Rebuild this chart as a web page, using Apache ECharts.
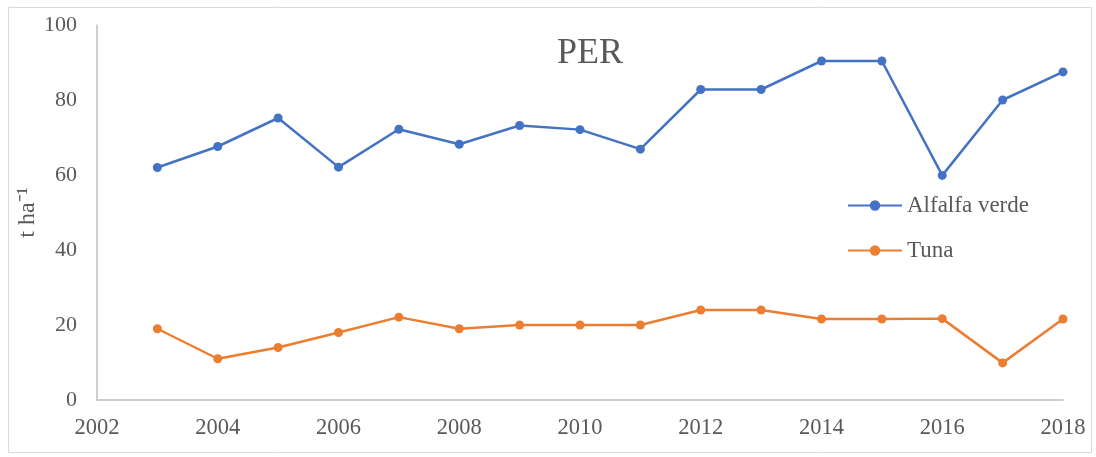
<!DOCTYPE html>
<html>
<head>
<meta charset="utf-8">
<script src="https://cdn.jsdelivr.net/npm/echarts@6/dist/echarts.min.js"></script>
<style>
  html, body { margin: 0; padding: 0; background: #fff; }
  #chartDom { width: 1096px; height: 457px; }
</style>
</head>
<body>
<div id="chartDom"></div>
<script>
const years = [2003, 2004, 2005, 2006, 2007, 2008, 2009, 2010, 2011, 2012, 2013, 2014, 2015, 2016, 2017, 2018];
const alfalfa = [62.0, 67.6, 75.2, 62.1, 72.2, 68.2, 73.2, 72.1, 66.9, 82.8, 82.8, 90.4, 90.4, 59.9, 80.0, 87.5];
const tuna = [19.0, 11.0, 14.0, 18.0, 22.1, 19.0, 20.0, 20.0, 20.0, 24.0, 24.0, 21.6, 21.6, 21.7, 9.9, 21.6];
const seriesNames = ["Alfalfa verde", "Tuna"];

const font = "'Liberation Serif', 'Times New Roman', serif";
const textColor = "#595959";

let myChart = echarts.init(document.getElementById("chartDom"));
const option = {
  animation: false,
  textStyle: { fontFamily: font },
  title: {
    text: "PER",
    left: 585,
    top: 31,
    textAlign: "center",
    textStyle: { fontFamily: font, fontSize: 36, fontWeight: "normal", color: textColor },
  },
  graphic: [
    {
      type: "rect",
      shape: { x: 8.5, y: 7.5, width: 1083, height: 445 },
      style: { fill: "none", stroke: "#d9d9d9", lineWidth: 1 },
      silent: true,
    },
  ],
  legend: {
    orient: "vertical",
    left: 842,
    top: 189,
    itemWidth: 54,
    itemHeight: 13,
    itemGap: 22,
    textStyle: { fontFamily: font, fontSize: 23, color: textColor },
    data: seriesNames,
  },
  grid: { left: 97, right: 33, top: 25, bottom: 57 },
  xAxis: {
    type: "value",
    min: 2002,
    max: 2018,
    interval: 2,
    splitLine: { show: false },
    axisTick: { show: false },
    axisLine: { lineStyle: { color: "#bfbfbf", width: 1.5 } },
    axisLabel: {
      fontFamily: font,
      fontSize: 22.5,
      color: textColor,
      margin: 17,
      formatter: (v) => String(v),
    },
  },
  yAxis: {
    type: "value",
    min: 0,
    max: 100,
    interval: 20,
    splitLine: { show: false },
    axisTick: { show: false },
    axisLine: { show: true, lineStyle: { color: "#bfbfbf", width: 1.5 } },
    axisLabel: { fontFamily: font, fontSize: 22, color: textColor, margin: 20 },
    name: "t ha\u207B\u00B9",
    nameLocation: "middle",
    nameMoveOverlap: false,
    nameGap: 57,
    nameTextStyle: { fontFamily: font, fontSize: 24, color: textColor },
  },
  series: [
    {
      name: seriesNames[0],
      type: "line",
      data: years.map((y, i) => [y, alfalfa[i]]),
      symbol: "circle",
      symbolSize: 9,
      itemStyle: { color: "#4472c4" },
      lineStyle: { color: "#4472c4", width: 2.5 },
    },
    {
      name: seriesNames[1],
      type: "line",
      data: years.map((y, i) => [y, tuna[i]]),
      symbol: "circle",
      symbolSize: 9,
      itemStyle: { color: "#ed7d31" },
      lineStyle: { color: "#ed7d31", width: 2.5 },
    },
  ],
};
option && myChart.setOption(option);
</script>
</body>
</html>
